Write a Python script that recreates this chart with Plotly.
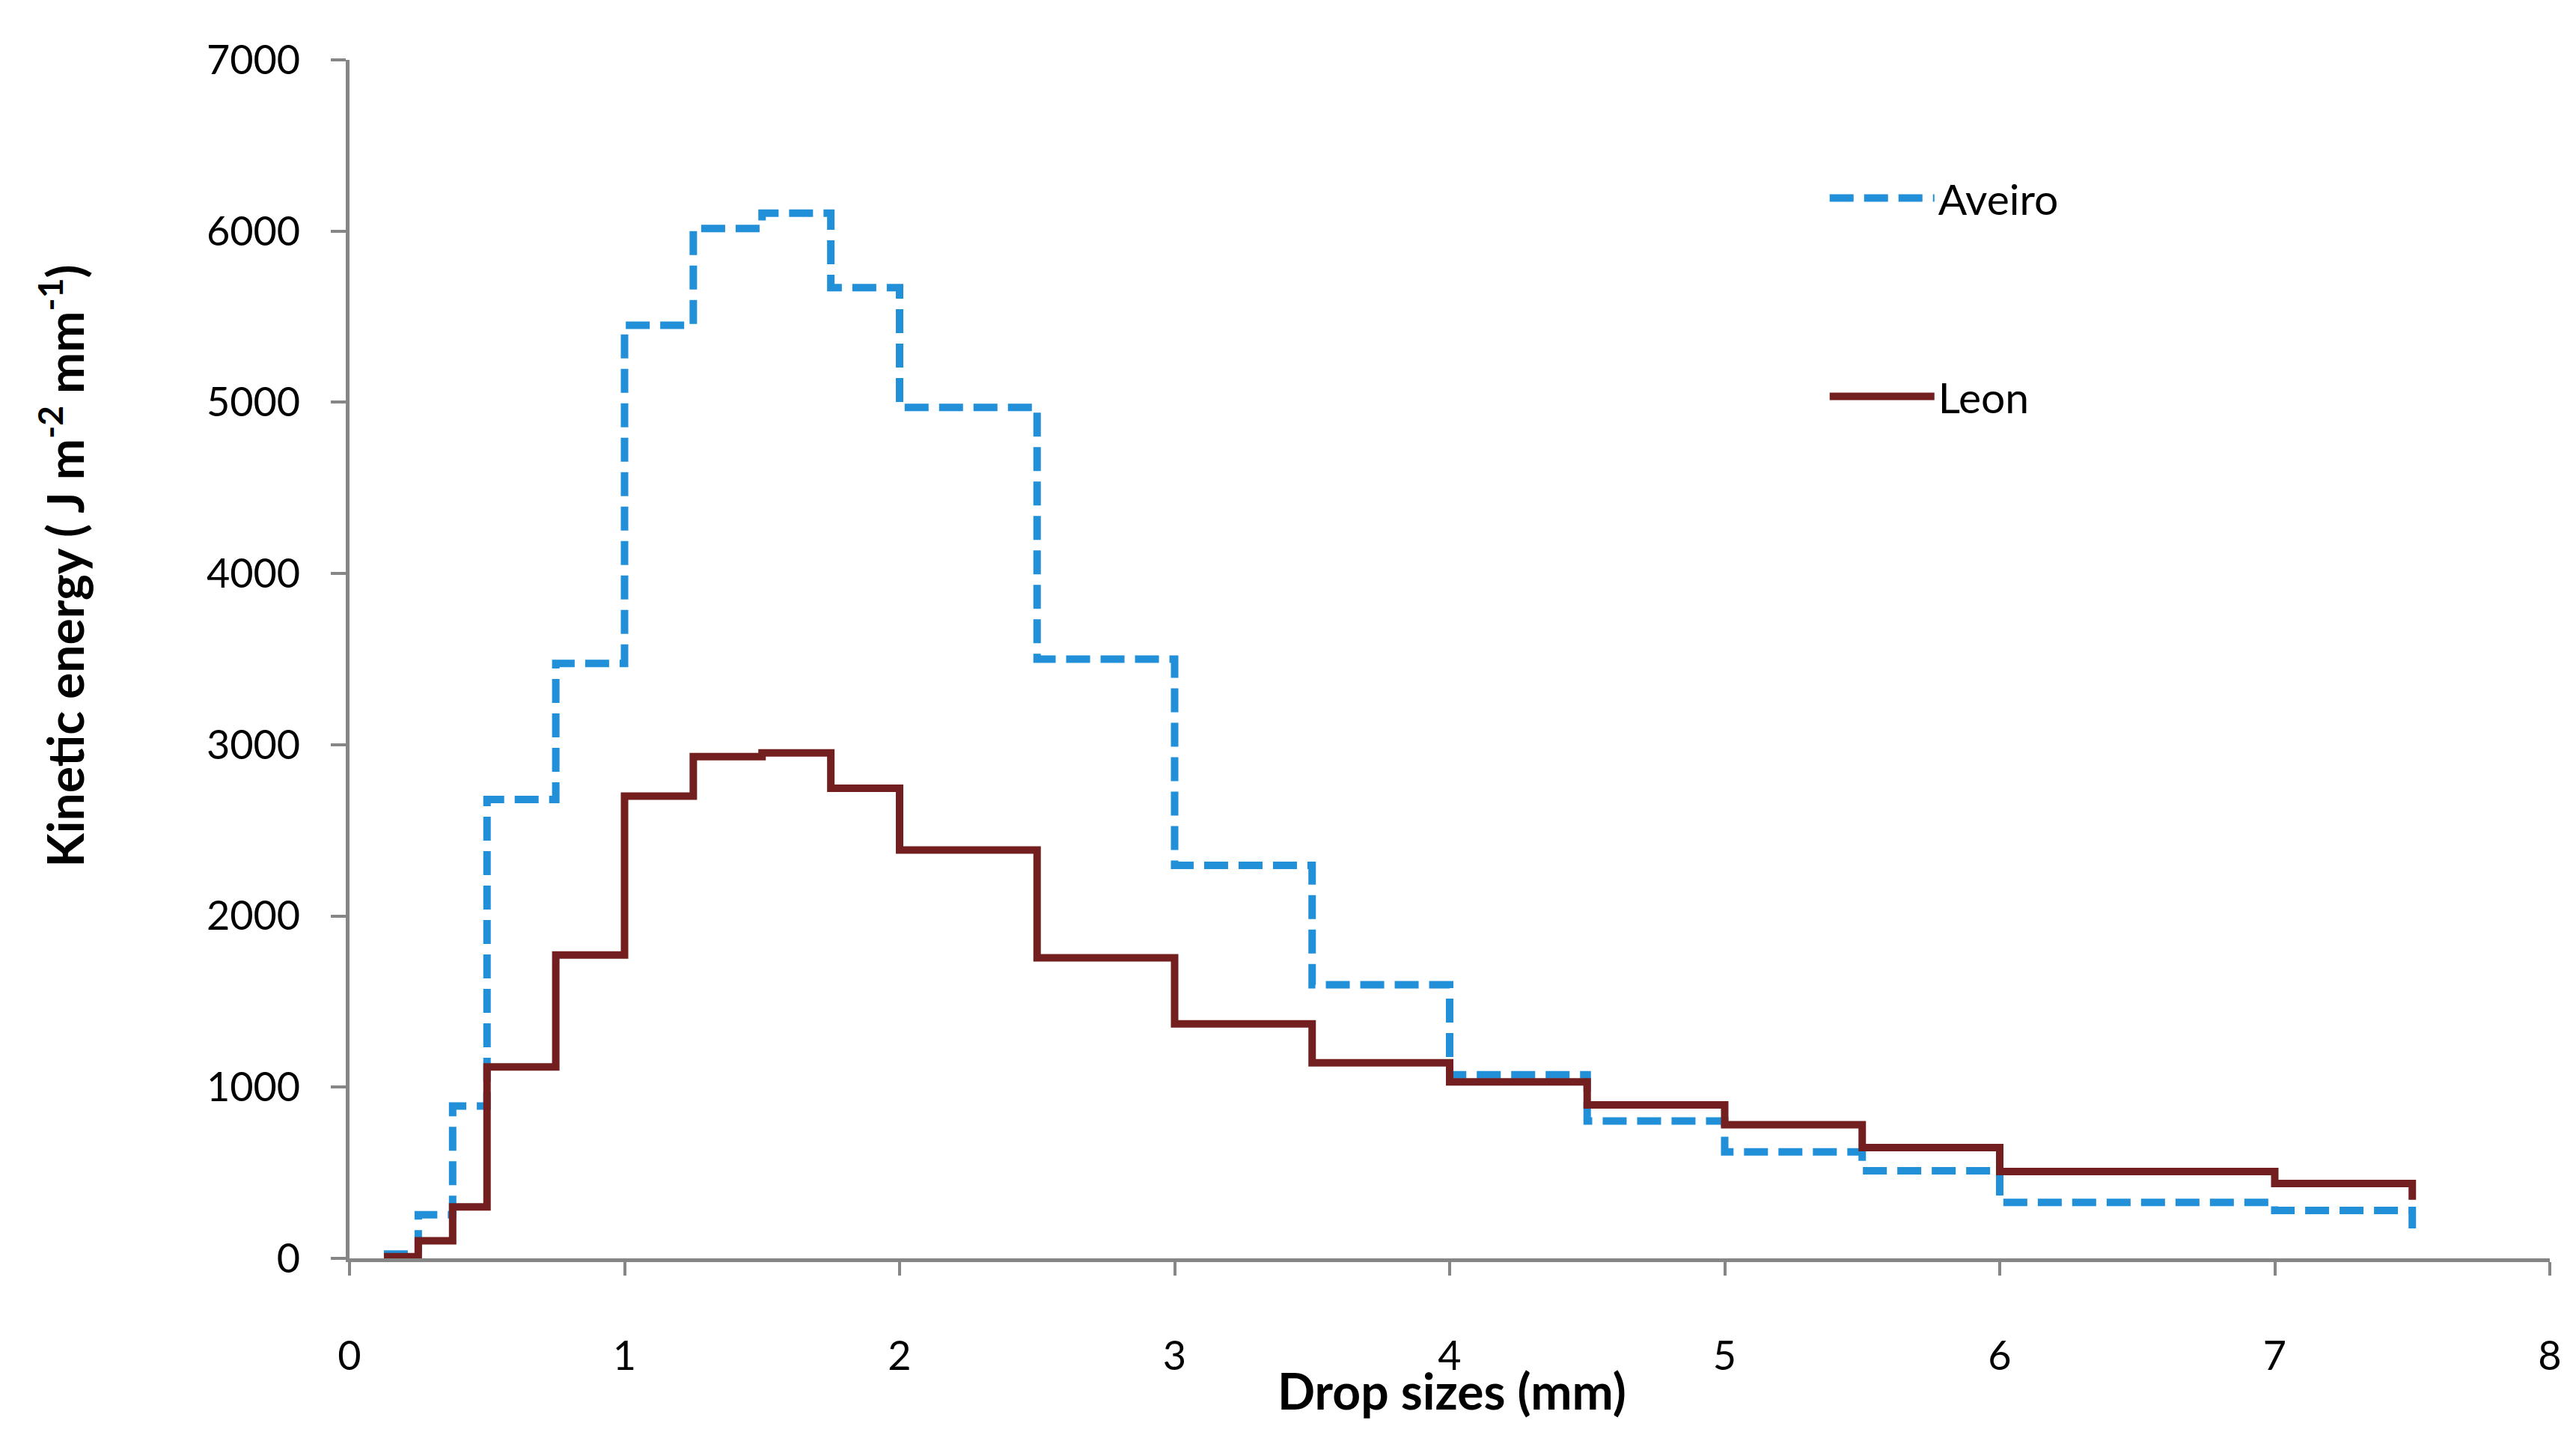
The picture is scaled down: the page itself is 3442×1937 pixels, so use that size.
import plotly.graph_objects as go

# Bin left edges (mm) plus the final right edge
drop_sizes = [0.125, 0.25, 0.375, 0.5, 0.75, 1.0, 1.25, 1.5, 1.75, 2.0,
              2.5, 3.0, 3.5, 4.0, 4.5, 5.0, 5.5, 6.0, 7.0, 7.5]

aveiro = [25, 255, 890, 2680, 3475, 5450, 6015, 6105, 5670, 4970,
          3500, 2295, 1598, 1072, 802, 622, 512, 327, 280, 175]

leon = [10, 103, 301, 1118, 1772, 2700, 2930, 2952, 2746, 2385,
        1756, 1370, 1142, 1031, 896, 780, 647, 507, 437, 342]

x_ticks = [0, 1, 2, 3, 4, 5, 6, 7, 8]
y_ticks = [0, 1000, 2000, 3000, 4000, 5000, 6000, 7000]

FONT = "Lato"
AXIS_COLOR = "#868686"

fig = go.Figure()
fig.add_trace(go.Scatter(
    x=drop_sizes, y=aveiro, name="Aveiro", mode="lines", line_shape="hv",
    line=dict(color="#2190D9", width=10, dash="32px,14px"),
    legendgroup="a"))
fig.add_trace(go.Scatter(
    x=drop_sizes, y=leon, name="Leon", mode="lines", line_shape="hv",
    line=dict(color="#731F1F", width=10),
    legendgroup="b"))

fig.update_layout(
    width=3442, height=1937,
    margin=dict(l=459, r=43, t=72, b=264),
    paper_bgcolor="white", plot_bgcolor="white",
    font=dict(family=FONT, size=54, color="black"),
    showlegend=True,
    legend=dict(
        x=0.671, y=0.912, xanchor="left", yanchor="top",
        bgcolor="rgba(0,0,0,0)", font=dict(size=57, family=FONT),
        itemwidth=140, tracegroupgap=188,
    ),
    xaxis=dict(
        range=[0, 8], tickvals=x_ticks, ticktext=[str(v) for v in x_ticks],
        showgrid=False, zeroline=False, showline=True,
        linecolor=AXIS_COLOR, linewidth=5,
        ticks="outside", ticklen=18, tickwidth=4, tickcolor=AXIS_COLOR,
        ticklabelstandoff=61,
        tickfont=dict(size=54, family=FONT),
    ),
    yaxis=dict(
        range=[0, 7000], tickvals=y_ticks, ticktext=[str(v) for v in y_ticks],
        showgrid=False, zeroline=False, showline=True,
        linecolor=AXIS_COLOR, linewidth=5,
        ticks="outside", ticklen=20, tickwidth=4, tickcolor=AXIS_COLOR,
        ticklabelstandoff=30,
        tickfont=dict(size=54, family=FONT),
    ),
    annotations=[
        dict(text="<b>Drop sizes (mm)</b>", xref="paper", yref="paper",
             x=0.501, y=-0.11, xanchor="center", yanchor="middle",
             showarrow=False, font=dict(size=66, family=FONT)),
        dict(text="<b>Kinetic energy ( J m<sup>-2</sup> mm<sup>-1</sup>)</b>",
             xref="paper", yref="paper", x=-0.131, y=0.578,
             xanchor="center", yanchor="middle", textangle=-90,
             showarrow=False, font=dict(size=66, family=FONT)),
    ],
)

fig.write_html("out.html")
